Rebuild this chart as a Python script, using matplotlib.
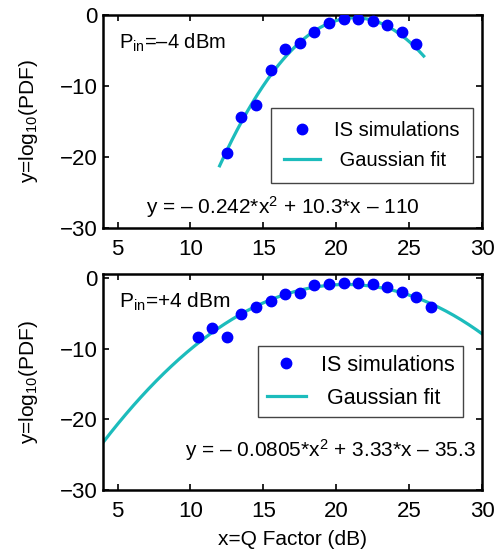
import numpy as np
import matplotlib
matplotlib.use("Agg")
import matplotlib.pyplot as plt

plt.rcParams['font.family'] = ['Liberation Sans', 'DejaVu Sans']
plt.rcParams['mathtext.fontset'] = 'custom'
plt.rcParams['mathtext.rm'] = 'Liberation Sans'
plt.rcParams['mathtext.it'] = 'Liberation Sans:italic'
plt.rcParams['mathtext.default'] = 'regular'

# Pin = -4 dBm
x_top = [12.5, 13.5, 14.5, 15.5, 16.5, 17.5, 18.5, 19.5, 20.5, 21.5, 22.5, 23.5, 24.5, 25.5]
y_top = [-19.5, -14.4, -12.7, -7.8, -4.8, -3.9, -2.4, -1.2, -0.6, -0.6, -0.85, -1.4, -2.45, -4.1]
fit_top = [-0.242, 10.3, -110]
fit_top_range = [12, 26]

# Pin = +4 dBm
x_bot = [10.5, 11.5, 12.5, 13.5, 14.5, 15.5, 16.5, 17.5, 18.5, 19.5, 20.5, 21.5, 22.5, 23.5, 24.5, 25.5, 26.5]
y_bot = [-8.25, -7.1, -8.25, -5.1, -4.0, -3.15, -2.25, -2.0, -0.9, -0.8, -0.6, -0.6, -0.8, -1.25, -1.95, -2.65, -4.1]
fit_bot = [-0.0805, 3.33, -35.3]
fit_bot_range = [4, 30]

line_color = '#1cbcbc'
dot_color = '#0000ff'

fig = plt.figure(figsize=(5.01, 5.52), dpi=100)
ax1 = fig.add_axes([0.2056, 0.587, 0.7565, 0.386])
ax2 = fig.add_axes([0.2056, 0.1123, 0.7565, 0.391])

panels = [
    (ax1, x_top, y_top, fit_top, fit_top_range, r'P$_{in}$=–4 dBm', -4.0, 14.5,
     r'y = – 0.242*x$^2$ + 10.3*x – 110', (16.3, -27.0), 'center',
     (0.976, 0.563), 14.5, 0.65, 0, 'x'),
    (ax2, x_bot, y_bot, fit_bot, fit_bot_range, r'P$_{in}$=+4 dBm', -3.3, 15,
     r'y = – 0.0805*x$^2$ + 3.33*x – 35.3', (29.6, -24.3), 'right',
     (0.95, 0.667), 15.5, 0.4, 0.6, 'x'),
]

for (ax, xs, ys, coef, rng, ptxt, py, pfs, eq, eqpos, eqha,
     legpos, legfs, legpad, ytop, _) in panels:
    xf = np.linspace(rng[0], rng[1], 200)
    ax.plot(xs, ys, 'o', color=dot_color, markersize=7.5, label='IS simulations', zorder=3)
    ax.plot(xf, np.polyval(coef, xf), '-', color=line_color, linewidth=2.3, label=' Gaussian fit', zorder=2)
    ax.set_xlim(4, 30)
    ax.set_ylim(-30, ytop)
    ax.set_xticks([5, 10, 15, 20, 25, 30])
    ax.set_yticks([-30, -20, -10, 0])
    ax.tick_params(direction='in', top=True, right=True, labelsize=16, length=4, width=1.2)
    ax.tick_params(axis='x', pad=8)
    ax.tick_params(axis='y', pad=4)
    for s in ax.spines.values():
        s.set_linewidth(1.8)
    ax.set_ylabel(r'y=log$_{10}$(PDF)', fontsize=15, labelpad=14)
    ax.text(5.1, py, ptxt, fontsize=pfs, va='center', ha='left')
    ax.text(eqpos[0], eqpos[1], eq, fontsize=15, va='center', ha=eqha)
    leg = ax.legend(loc='upper right', bbox_to_anchor=legpos, fontsize=legfs, fancybox=False,
                    framealpha=1, edgecolor='#444444', handlelength=1.8, borderpad=legpad,
                    labelspacing=0.55, handletextpad=0.7, borderaxespad=0)
    leg.get_frame().set_linewidth(1.0)

ax2.set_xlabel('x=Q Factor (dB)', fontsize=15, labelpad=6)

fig.savefig('out.png', dpi=100)
